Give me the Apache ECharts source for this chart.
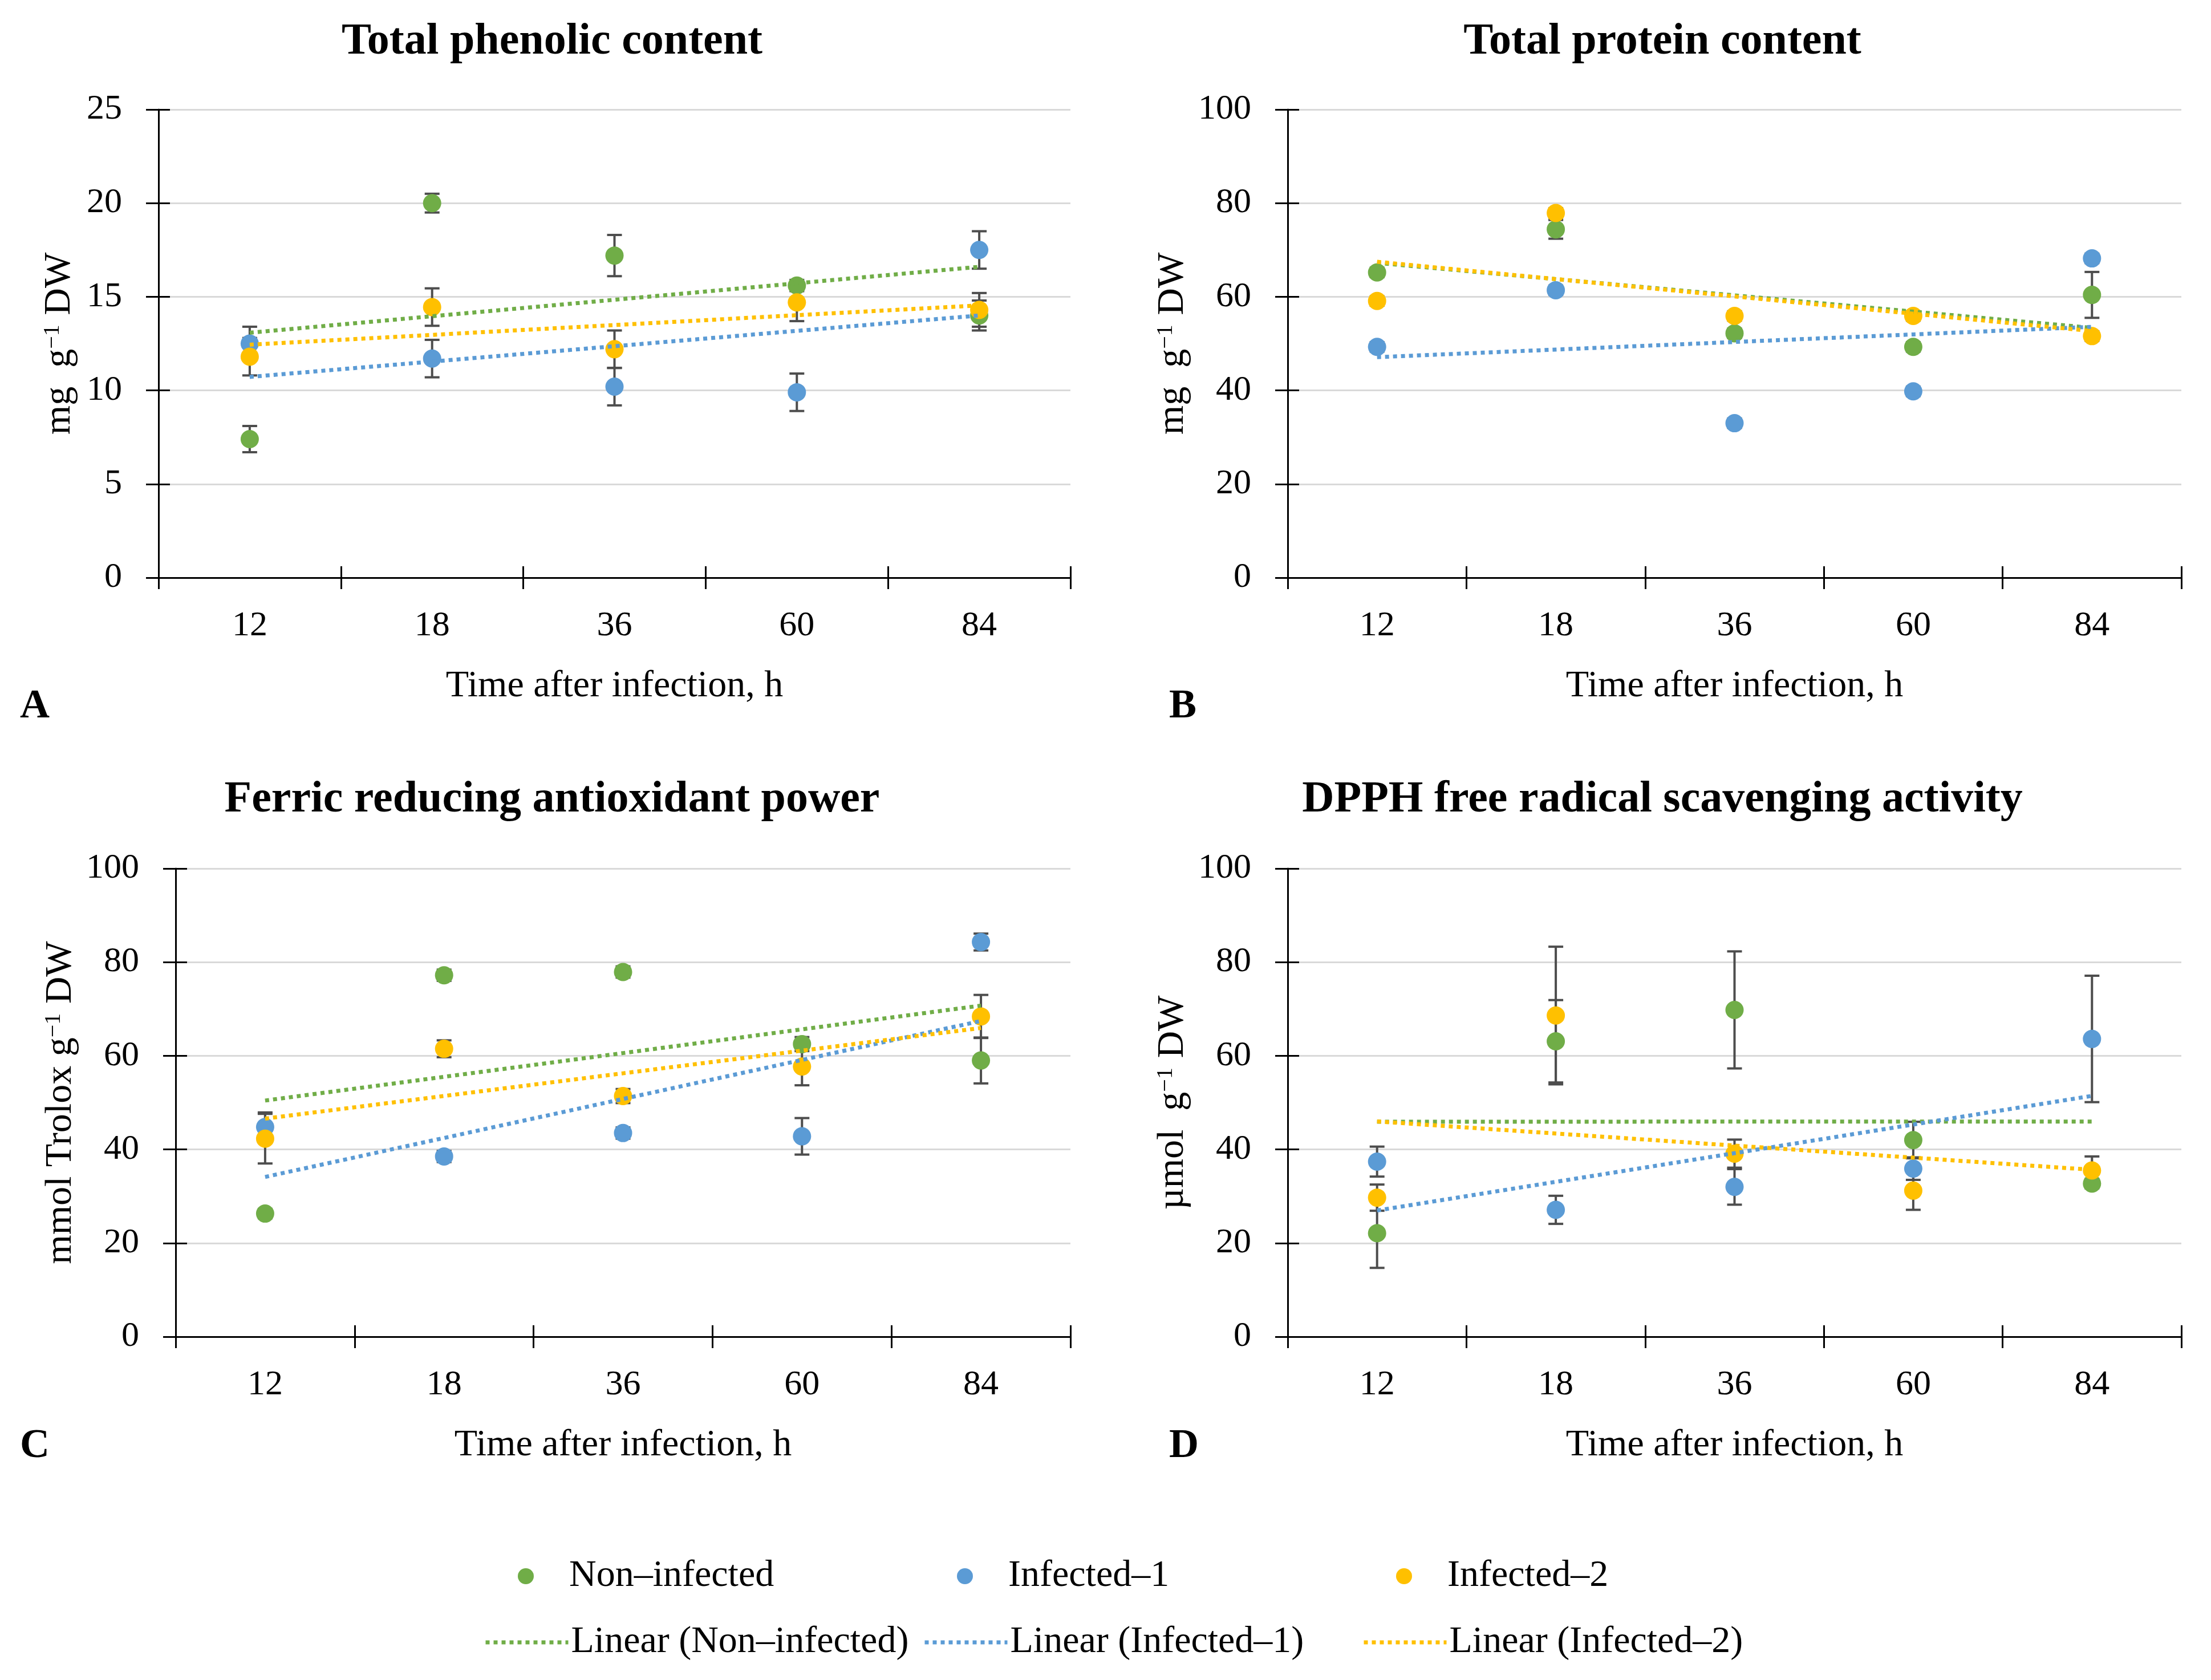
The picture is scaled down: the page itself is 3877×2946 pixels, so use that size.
<!DOCTYPE html>
<html>
<head>
<meta charset="utf-8">
<script src="https://cdn.jsdelivr.net/npm/echarts@6/dist/echarts.min.js"></script>
<style>
html,body{margin:0;padding:0;background:#ffffff;}
#chart{width:3877px;height:2946px;}
</style>
</head>
<body>
<div id="chart"></div>
<script>
// ---------------- DATA ----------------
const categories = ['12', '18', '36', '60', '84'];
const seriesNames = ['Non–infected', 'Infected–1', 'Infected–2'];
const trendNames = ['Linear (Non–infected)', 'Linear (Infected–1)', 'Linear (Infected–2)'];

// A: Total phenolic content (mg g-1 DW)
const phenolicNon = [7.4, 20.0, 17.2, 15.6, 14.0];
const phenolicNonErr = [0.7, 0.5, 1.1, 0.3, 0.8];
const phenolicInf1 = [12.5, 11.7, 10.2, 9.9, 17.5];
const phenolicInf1Err = [0.9, 1.0, 1.0, 1.0, 1.0];
const phenolicInf2 = [11.8, 14.45, 12.2, 14.7, 14.3];
const phenolicInf2Err = [1.0, 1.0, 1.0, 1.0, 0.9];

// B: Total protein content (mg g-1 DW)
const proteinNon = [65.2, 74.4, 52.2, 49.3, 60.4];
const proteinNonErr = [1.0, 2.0, 1.0, 1.0, 4.9];
const proteinInf1 = [49.3, 61.4, 33.0, 39.8, 68.2];
const proteinInf1Err = [1.0, 1.0, 1.0, 1.0, 1.0];
const proteinInf2 = [59.1, 77.9, 55.9, 55.9, 51.6];
const proteinInf2Err = [1.0, 1.0, 1.0, 1.0, 1.0];

// C: Ferric reducing antioxidant power (mmol Trolox g-1 DW)
const frapNon = [26.3, 77.2, 77.9, 62.5, 59.0];
const frapNonErr = [1.0, 1.2, 1.2, 1.5, 4.9];
const frapInf1 = [44.8, 38.5, 43.5, 42.8, 84.3];
const frapInf1Err = [3.1, 1.2, 1.2, 3.9, 1.8];
const frapInf2 = [42.3, 61.5, 51.4, 57.7, 68.4];
const frapInf2Err = [5.3, 1.8, 1.5, 4.0, 4.6];

// D: DPPH free radical scavenging activity (umol g-1 DW)
const dpphNon = [22.1, 63.1, 69.8, 42.0, 32.7];
const dpphNonErr = [7.4, 8.8, 12.5, 3.9, 1.0];
const dpphInf1 = [37.4, 27.1, 32.0, 35.9, 63.6];
const dpphInf1Err = [3.2, 3.0, 3.8, 2.4, 13.5];
const dpphInf2 = [29.7, 68.6, 39.1, 31.2, 35.5];
const dpphInf2Err = [2.8, 14.7, 3.0, 4.1, 3.0];

const panelTitles = ['Total phenolic content', 'Total protein content',
  'Ferric reducing antioxidant power', 'DPPH free radical scavenging activity'];
const panelLetters = ['A', 'B', 'C', 'D'];
const yAxisNames = ['mg  g{sup|−1} DW', 'mg  g{sup|−1} DW', 'mmol Trolox g{sup|−1} DW', 'µmol  g{sup|−1} DW'];
const xAxisName = 'Time after infection, h';
const yMins = [0, 0, 0, 0];
const yMaxs = [25, 100, 100, 100];
const yIntervals = [5, 20, 20, 20];

const panelValues = [
  [phenolicNon, phenolicInf1, phenolicInf2],
  [proteinNon, proteinInf1, proteinInf2],
  [frapNon, frapInf1, frapInf2],
  [dpphNon, dpphInf1, dpphInf2]
];
const panelErrors = [
  [phenolicNonErr, phenolicInf1Err, phenolicInf2Err],
  [proteinNonErr, proteinInf1Err, proteinInf2Err],
  [frapNonErr, frapInf1Err, frapInf2Err],
  [dpphNonErr, dpphInf1Err, dpphInf2Err]
];

// ---------------- STYLE / LAYOUT ----------------
const colors = ['#70AD47', '#5B9BD5', '#FFC000'];
const FONT = 'Liberation Serif';
const grids = [
  {left: 278, top: 192, width: 1599, height: 821},
  {left: 2258, top: 192, width: 1567, height: 821},
  {left: 308, top: 1523, width: 1569, height: 821},
  {left: 2258, top: 1523, width: 1567, height: 821}
];
const yNameGaps = [140, 168, 168, 168];
const titlePos = [[963, 30], [2910, 30], [963, 1359], [2910, 1359]];
const letterPos = [[30, 1198], [2045, 1198], [30, 2495], [2045, 2495]];

// linear least-squares trendline over category positions (as Excel's "Linear" trendline)
function linearFit(vals) {
  const n = vals.length;
  let sx = 0, sy = 0, sxx = 0, sxy = 0;
  vals.forEach((v, i) => { const x = i + 1; sx += x; sy += v; sxx += x * x; sxy += x * v; });
  const b = (n * sxy - sx * sy) / (n * sxx - sx * sx);
  const a = (sy - b * sx) / n;
  return vals.map((v, i) => +(a + b * (i + 1)).toFixed(4));
}

function renderErr(params, api) {
  const x = api.value(0), lo = api.value(1), hi = api.value(2);
  const pLo = api.coord([x, lo]);
  const pHi = api.coord([x, hi]);
  const hw = 13;
  const style = {stroke: '#4d4d4d', lineWidth: 4};
  return {
    type: 'group',
    children: [
      {type: 'line', shape: {x1: pLo[0], y1: pLo[1], x2: pHi[0], y2: pHi[1]}, style: style},
      {type: 'line', shape: {x1: pLo[0] - hw, y1: pLo[1], x2: pLo[0] + hw, y2: pLo[1]}, style: style},
      {type: 'line', shape: {x1: pHi[0] - hw, y1: pHi[1], x2: pHi[0] + hw, y2: pHi[1]}, style: style}
    ]
  };
}

const axisLineStyle = {color: '#000000', width: 3};
const xAxes = [], yAxes = [], series = [], titles = [];

for (let p = 0; p < 4; p++) {
  xAxes.push({
    type: 'category', gridIndex: p, data: categories, boundaryGap: true, position: 'bottom',
    axisLine: {show: true, onZero: false, lineStyle: axisLineStyle},
    axisTick: {show: true, length: 20, lineStyle: axisLineStyle},
    axisLabel: {fontFamily: FONT, fontSize: 62, color: '#000', margin: 54},
    splitLine: {show: false},
    name: xAxisName, nameLocation: 'middle', nameGap: 158,
    nameTextStyle: {fontFamily: FONT, fontSize: 66, color: '#000'}
  });
  xAxes.push({
    type: 'category', gridIndex: p, data: categories, boundaryGap: true, position: 'bottom',
    axisLine: {show: false, onZero: false},
    axisTick: {show: true, inside: true, length: 20, lineStyle: axisLineStyle},
    axisLabel: {show: false}, splitLine: {show: false}
  });
  yAxes.push({
    type: 'value', gridIndex: p, min: yMins[p], max: yMaxs[p], interval: yIntervals[p], position: 'left',
    axisLine: {show: true, lineStyle: axisLineStyle},
    axisTick: {show: true, length: 22, lineStyle: axisLineStyle},
    axisLabel: {fontFamily: FONT, fontSize: 62, color: '#000', margin: 64},
    splitLine: {show: true, lineStyle: {color: '#d9d9d9', width: 3}},
    name: yAxisNames[p], nameLocation: 'middle', nameGap: yNameGaps[p],
    nameTextStyle: {
      fontFamily: FONT, fontSize: 66, color: '#000',
      rich: {sup: {fontFamily: FONT, fontSize: 40, color: '#000', verticalAlign: 'top', lineHeight: 40}}
    }
  });
  yAxes.push({
    type: 'value', gridIndex: p, min: yMins[p], max: yMaxs[p], interval: yIntervals[p], position: 'left',
    axisLine: {show: false},
    axisTick: {show: true, inside: true, length: 20, lineStyle: axisLineStyle},
    axisLabel: {show: false}, splitLine: {show: false}
  });

  const xi = p * 2, yi = p * 2;
  for (let s = 0; s < 3; s++) {
    const vals = panelValues[p][s];
    const errs = panelErrors[p][s];
    series.push({
      type: 'custom', name: 'err' + p + s, xAxisIndex: xi, yAxisIndex: yi, z: 2, silent: true,
      renderItem: renderErr,
      encode: {x: 0, y: [1, 2]},
      data: vals.map((v, i) => [i, v - errs[i], v + errs[i]])
    });
  }
  for (let s = 0; s < 3; s++) {
    series.push({
      type: 'scatter', name: seriesNames[s], xAxisIndex: xi, yAxisIndex: yi, z: 3,
      symbol: 'circle', symbolSize: 32,
      itemStyle: {color: colors[s], opacity: 1},
      data: panelValues[p][s]
    });
  }
  for (let s = 0; s < 3; s++) {
    series.push({
      type: 'line', name: trendNames[s], xAxisIndex: xi, yAxisIndex: yi, z: 4, silent: true,
      symbol: 'none', showSymbol: false,
      lineStyle: {color: colors[s], width: 7, type: [7, 7]},
      itemStyle: {color: colors[s]},
      data: linearFit(panelValues[p][s])
    });
  }
  titles.push({
    text: panelTitles[p], left: titlePos[p][0], top: titlePos[p][1], textAlign: 'center',
    textStyle: {fontFamily: FONT, fontWeight: 'bold', fontSize: 78, color: '#000'}
  });
  titles.push({
    text: panelLetters[p], left: letterPos[p][0], top: letterPos[p][1],
    textStyle: {fontFamily: FONT, fontWeight: 'bold', fontSize: 72, color: '#000'}
  });
}

const colText = [998, 1768, 2538];
const legends = [];
for (let s = 0; s < 3; s++) {
  legends.push({
    data: [seriesNames[s]], left: colText[s] - 90, top: 2728, padding: 0,
    itemWidth: 28, itemHeight: 28, selectedMode: false,
    textStyle: {fontFamily: FONT, fontSize: 66, color: '#000', lineHeight: 72, padding: [0, 0, 0, 57]}
  });
  legends.push({
    data: [trendNames[s]], left: colText[s] - 150, top: 2844, padding: 0,
    itemWidth: 145, itemHeight: 28, selectedMode: false,
    textStyle: {fontFamily: FONT, fontSize: 66, color: '#000', lineHeight: 72},
    lineStyle: {width: 7, type: [7, 7]}, itemStyle: {opacity: 0}
  });
}

const chart = echarts.init(document.getElementById('chart'), null, {renderer: 'canvas'});
chart.setOption({
  backgroundColor: '#ffffff',
  animation: false,
  title: titles,
  legend: legends,
  grid: grids,
  xAxis: xAxes,
  yAxis: yAxes,
  series: series
});
</script>
</body>
</html>
